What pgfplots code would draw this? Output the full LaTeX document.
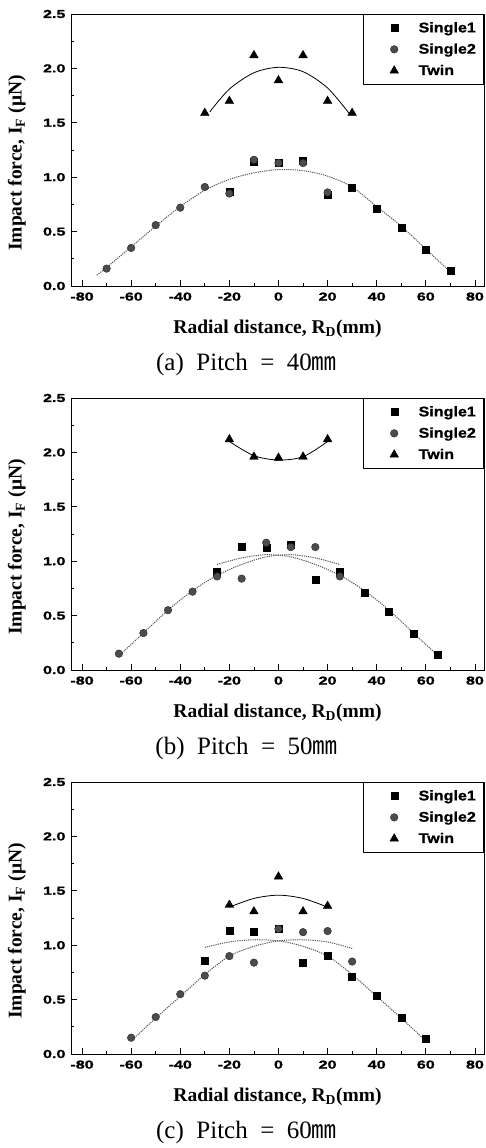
\documentclass[border=0pt]{standalone}
\usepackage{fontspec}
\setmainfont{Liberation Serif}
\newfontfamily\tickfont{Liberation Sans}[FakeStretch=1.4, FakeBold=1.5]
\newfontfamily\legfont{Liberation Sans}[FakeStretch=1.15, FakeBold=1]
\newfontfamily\cjk{Noto Sans CJK KR}
\usepackage{pgfplots}
\pgfplotsset{compat=1.18}
\pgfplotsset{
  panel/.style={
    scale only axis, width=413pt, height=272pt,
    xmin=-84.5, xmax=83.7, ymin=0, ymax=2.5,
    xtick={-80,-60,-40,-20,0,20,40,60,80},
    xticklabels={-80,-60,-40,-20,0,20,40,60,80},
    ytick={0,0.5,1,1.5,2,2.5},
    yticklabels={0.0,0.5,1.0,1.5,2.0,2.5},
    minor x tick num=1, minor y tick num=1,
    tick align=inside, xtick pos=left, ytick pos=left,
    major tick length=6pt, minor tick length=3pt,
    every tick/.style={black, line width=0.8pt},
    axis line style={line width=1pt},
    tick label style={font=\tickfont\bfseries\fontsize{11.5}{13}\selectfont},
    xticklabel style={yshift=-3pt},
    yticklabel style={xshift=-2pt},
    xlabel={Radial distance, R\textsubscript{D}(mm)},
    ylabel={Impact force, I\textsubscript{F} (μN)},
    label style={font=\bfseries\fontsize{19.5}{22}\selectfont},
    xlabel style={at={(axis description cs:0.5,-0.158)}, anchor=center},
    ylabel style={at={(axis description cs:-0.131,0.452)}, anchor=center},
    legend style={at={(axis description cs:1,1)}, anchor=north east,
      draw=black, line width=0.8pt, inner xsep=0pt, inner ysep=3pt,
      row sep=0pt, column sep=0pt,
      nodes={inner sep=0pt},
      font=\legfont\bfseries\fontsize{14}{15}\selectfont},
    legend cell align=left,
    legend image code/.code={\path (-30pt,-10.25pt) (24pt,10.25pt);
      \draw[#1] plot coordinates {(0pt,0pt)};},
    clip=false,
  },
  s1/.style={only marks, mark=square*, mark size=3.5pt, mark options={fill=black, draw=black, line width=0.4pt}},
  s2/.style={only marks, mark=*, mark size=3.8pt, mark options={fill=black!70, draw=black!85, line width=0.4pt}},
  tw/.style={only marks, mark=triangle*, mark size=5pt, mark options={fill=black, draw=black, line width=0.4pt}},
  fitd/.style={no marks, smooth, tension=0.5, black!65, line width=1pt, dash pattern=on 1.2pt off 1pt, forget plot},
  fits/.style={no marks, smooth, tension=0.5, black, line width=0.8pt, forget plot},
}
\begin{document}
\begin{tikzpicture}
\useasboundingbox (0,0) rectangle (485pt,-1148pt);
% ---------- (a) Pitch = 40 mm ----------
\begin{axis}[panel, at={(71pt,-286pt)}, anchor=south west]
\addplot[fitd] coordinates {(-74,0.10)(-70,0.17)(-60,0.36)(-50,0.55)(-40,0.73)(-30,0.88)(-20,0.98)(-10,1.04)(0,1.07)(10,1.06)(20,1.01)(30,0.91)(40,0.73)(50,0.55)(60,0.34)(69,0.15)};
\addplot[fits] coordinates {(-28,1.60)(-20,1.81)(-10,1.96)(0,2.01)(10,1.97)(20,1.82)(29,1.58)};
\addplot[s1] coordinates {(-20,0.87)(-10,1.14)(0,1.13)(10,1.15)(20,0.84)(30,0.90)(40,0.71)(50,0.54)(60,0.33)(70,0.14)};
\addplot[s2] coordinates {(-70,0.16)(-60,0.35)(-50,0.56)(-40,0.72)(-30,0.91)(-20,0.85)(-10,1.16)(0,1.13)(10,1.13)(20,0.86)};
\addplot[tw] coordinates {(-30,1.59)(-20,1.70)(-10,2.12)(0,1.89)(10,2.12)(20,1.70)(30,1.59)};
\addlegendentry{\makebox[65pt][l]{Single1}}
\addlegendentry{\makebox[65pt][l]{Single2}}
\addlegendentry{\makebox[65pt][l]{Twin}}
\node[font=\fontsize{25}{28}\selectfont] at (axis description cs:0.425,-0.287) {(a)\ \ Pitch\ \ =\ \ 40{\cjk ㎜}};
\end{axis}
% ---------- (b) Pitch = 50 mm ----------
\begin{axis}[panel, at={(71pt,-670pt)}, anchor=south west]
\addplot[fitd] coordinates {(-65,0.13)(-55,0.34)(-45,0.55)(-35,0.73)(-25,0.87)(-15,0.97)(-5,1.04)(5,1.06)(15,1.03)(25,0.97)};
\addplot[fitd] coordinates {(-25,0.97)(-15,1.03)(-5,1.06)(5,1.04)(15,0.97)(25,0.87)(35,0.73)(45,0.55)(55,0.34)(65,0.13)};
\addplot[fits] coordinates {(-20,2.10)(-10,1.97)(0,1.93)(10,1.96)(20,2.10)};
\addplot[s1] coordinates {(-25,0.90)(-15,1.13)(-5,1.12)(5,1.15)(15,0.83)(25,0.90)(35,0.71)(45,0.54)(55,0.33)(65,0.14)};
\addplot[s2] coordinates {(-65,0.15)(-55,0.34)(-45,0.55)(-35,0.72)(-25,0.86)(-15,0.84)(-5,1.17)(5,1.13)(15,1.13)(25,0.86)};
\addplot[tw] coordinates {(-20,2.12)(-10,1.96)(0,1.95)(10,1.96)(20,2.12)};
\addlegendentry{\makebox[65pt][l]{Single1}}
\addlegendentry{\makebox[65pt][l]{Single2}}
\addlegendentry{\makebox[65pt][l]{Twin}}
\node[font=\fontsize{25}{28}\selectfont] at (axis description cs:0.425,-0.287) {(b)\ \ Pitch\ \ =\ \ 50{\cjk ㎜}};
\end{axis}
% ---------- (c) Pitch = 60 mm ----------
\begin{axis}[panel, at={(71pt,-1054pt)}, anchor=south west]
\addplot[fitd] coordinates {(-30,0.98)(-20,1.03)(-10,1.05)(0,1.04)(10,0.99)(20,0.90)(30,0.73)(40,0.53)(50,0.33)(60,0.12)};
\addplot[fitd] coordinates {(-60,0.12)(-50,0.33)(-40,0.53)(-30,0.73)(-20,0.90)(-10,0.99)(0,1.04)(10,1.05)(20,1.03)(30,0.97)};
\addplot[fits] coordinates {(-20,1.35)(-10,1.43)(0,1.46)(10,1.43)(20,1.35)};
\addplot[s1] coordinates {(-30,0.86)(-20,1.13)(-10,1.12)(0,1.15)(10,0.84)(20,0.90)(30,0.71)(40,0.54)(50,0.33)(60,0.14)};
\addplot[s2] coordinates {(-60,0.15)(-50,0.34)(-40,0.55)(-30,0.72)(-20,0.90)(-10,0.84)(0,1.15)(10,1.12)(20,1.13)(30,0.85)};
\addplot[tw] coordinates {(-20,1.37)(-10,1.31)(0,1.63)(10,1.31)(20,1.36)};
\addlegendentry{\makebox[65pt][l]{Single1}}
\addlegendentry{\makebox[65pt][l]{Single2}}
\addlegendentry{\makebox[65pt][l]{Twin}}
\node[font=\fontsize{25}{28}\selectfont] at (axis description cs:0.425,-0.287) {(c)\ \ Pitch\ \ =\ \ 60{\cjk ㎜}};
\end{axis}
\end{tikzpicture}
\end{document}
